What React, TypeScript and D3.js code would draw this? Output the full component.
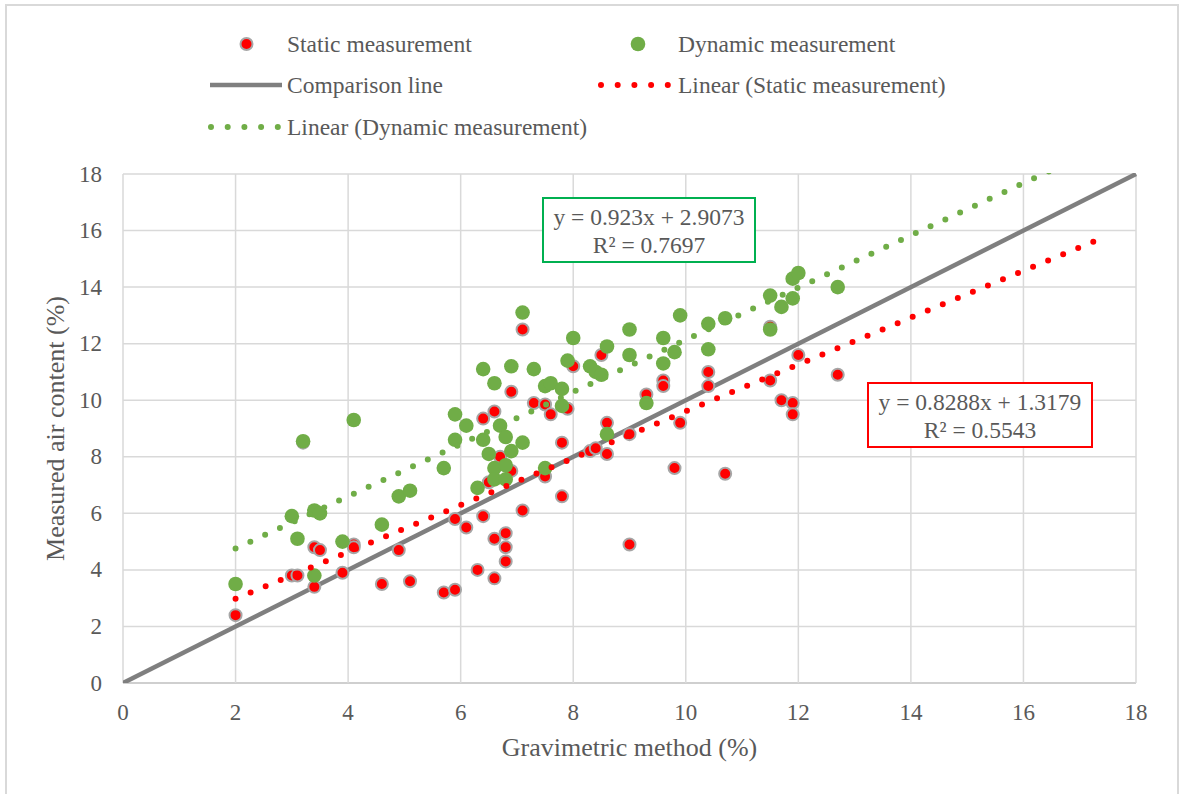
import React, { useEffect, useRef } from "react";
import * as d3 from "d3";

// Static measurement: [gravimetric %, measured %]
const staticX = [2.0, 3.0, 3.1, 3.2, 3.4, 3.4, 3.5, 3.9, 4.1, 4.1, 4.6, 4.9, 5.1, 5.7, 5.9, 5.9, 6.1, 6.3, 6.4, 6.4, 6.5, 6.6, 6.6, 6.6, 6.7, 6.8, 6.8, 6.8, 6.9, 6.9, 7.1, 7.1, 7.3, 7.5, 7.5, 7.6, 7.8, 7.8, 7.9, 8.0, 8.3, 8.4, 8.5, 8.6, 8.6, 9.0, 9.0, 9.3, 9.6, 9.6, 9.8, 9.9, 10.4, 10.4, 10.7, 11.5, 11.5, 11.7, 11.9, 11.9, 12.0, 12.7];
const staticY = [2.4, 3.8, 3.8, 8.5, 3.4, 4.8, 4.7, 3.9, 4.9, 4.8, 3.5, 4.7, 3.6, 3.2, 3.3, 5.8, 5.5, 4.0, 5.9, 9.35, 7.1, 9.6, 5.1, 3.7, 8.0, 5.3, 4.8, 4.3, 10.3, 7.5, 12.5, 6.1, 9.9, 9.85, 7.3, 9.5, 8.5, 6.6, 9.7, 11.2, 8.2, 8.3, 11.6, 9.2, 8.1, 8.8, 4.9, 10.2, 10.7, 10.5, 7.6, 9.2, 11.0, 10.5, 7.4, 12.6, 10.7, 10.0, 9.9, 9.5, 11.6, 10.9];

// Dynamic measurement
const dynamicX = [2.0, 3.0, 3.1, 3.2, 3.4, 3.4, 3.5, 3.9, 4.1, 4.6, 4.9, 5.1, 5.7, 5.9, 5.9, 6.1, 6.3, 6.4, 6.4, 6.5, 6.6, 6.6, 6.6, 6.7, 6.8, 6.8, 6.8, 6.9, 6.9, 7.1, 7.1, 7.3, 7.5, 7.5, 7.6, 7.8, 7.8, 7.9, 8.0, 8.3, 8.4, 8.5, 8.6, 8.6, 9.0, 9.0, 9.3, 9.6, 9.6, 9.8, 9.9, 10.4, 10.4, 10.7, 11.5, 11.5, 11.7, 11.9, 11.9, 12.0, 12.7];
const dynamicY = [3.5, 5.9, 5.1, 8.55, 6.1, 3.8, 6.0, 5.0, 9.3, 5.6, 6.6, 6.8, 7.6, 8.6, 9.5, 9.1, 6.9, 11.1, 8.6, 8.1, 10.6, 7.6, 7.2, 9.1, 8.7, 7.7, 7.2, 11.2, 8.2, 13.1, 8.5, 11.1, 10.5, 7.6, 10.6, 10.4, 9.8, 11.4, 12.2, 11.2, 11.0, 10.9, 11.9, 8.8, 12.5, 11.6, 9.9, 12.2, 11.3, 11.7, 13.0, 12.7, 11.8, 12.9, 13.7, 12.5, 13.3, 14.3, 13.6, 14.5, 14.0];

// Fitted trend lines (slope, intercept, R²) and their drawn x-range
const staticFit = { slope: 0.8288, intercept: 1.3179, r2: 0.5543 };
const dynamicFit = { slope: 0.923, intercept: 2.9073, r2: 0.7697 };
const trendRange = [2, 17.25];

const axisTicks = [0, 2, 4, 6, 8, 10, 12, 14, 16, 18];

const W = 1179;
const H = 794;
const plot = { left: 123, right: 1136, top: 174, bottom: 683 };

const RED = "#FF0000";
const GREEN = "#70AD47";
const GREY_LINE = "#7F7F7F";
const TEXT = "#595959";
const GRID = "#D9D9D9";
const FONT = '"Liberation Serif", "Times New Roman", Times, "DejaVu Serif", serif';

export default function App() {
  const ref = useRef<SVGSVGElement | null>(null);

  useEffect(() => {
    document.body.style.margin = "0";
    const svg = d3.select(ref.current);
    svg.selectAll("*").remove();

    const x = d3.scaleLinear().domain([0, 18]).range([plot.left, plot.right]);
    const y = d3.scaleLinear().domain([0, 18]).range([plot.bottom, plot.top]);

    svg.append("rect").attr("width", W).attr("height", H).attr("fill", "#fff");
    svg
      .append("rect")
      .attr("x", 6)
      .attr("y", 5)
      .attr("width", 1172)
      .attr("height", 820)
      .attr("fill", "none")
      .attr("stroke", GRID)
      .attr("stroke-width", 2);

    svg
      .append("defs")
      .append("clipPath")
      .attr("id", "plot-clip")
      .append("rect")
      .attr("x", plot.left)
      .attr("y", plot.top - 1)
      .attr("width", plot.right - plot.left + 1)
      .attr("height", plot.bottom - plot.top + 1);

    // Grid
    const grid = svg.append("g");
    axisTicks.forEach((t) => {
      grid
        .append("line")
        .attr("x1", x(t))
        .attr("x2", x(t))
        .attr("y1", plot.top)
        .attr("y2", plot.bottom)
        .attr("stroke", GRID)
        .attr("stroke-width", 1.5);
      grid
        .append("line")
        .attr("x1", plot.left)
        .attr("x2", plot.right)
        .attr("y1", y(t))
        .attr("y2", y(t))
        .attr("stroke", t === 0 ? "#BFBFBF" : GRID)
        .attr("stroke-width", 1.5);
    });

    // Tick labels
    const tickG = svg.append("g").style("font-family", FONT).attr("font-size", 23).attr("fill", TEXT);
    axisTicks.forEach((t) => {
      tickG
        .append("text")
        .attr("x", x(t))
        .attr("y", plot.bottom + 29)
        .attr("text-anchor", "middle")
        .attr("dominant-baseline", "central")
        .text(String(t));
      tickG
        .append("text")
        .attr("x", plot.left - 21)
        .attr("y", y(t))
        .attr("text-anchor", "end")
        .attr("dominant-baseline", "central")
        .text(String(t));
    });

    // Axis titles
    svg
      .append("text")
      .attr("x", (plot.left + plot.right) / 2)
      .attr("y", 747)
      .attr("text-anchor", "middle")
      .attr("dominant-baseline", "central")
      .style("font-family", FONT)
      .attr("font-size", 26)
      .attr("fill", TEXT)
      .text("Gravimetric method (%)");
    svg
      .append("text")
      .attr("transform", `translate(55,${(plot.top + plot.bottom) / 2}) rotate(-90)`)
      .attr("text-anchor", "middle")
      .attr("dominant-baseline", "central")
      .style("font-family", FONT)
      .attr("font-size", 26)
      .attr("fill", TEXT)
      .text("Measured air content (%)");

    const body = svg.append("g").attr("clip-path", "url(#plot-clip)");

    // Comparison line y = x
    const line = d3
      .line<[number, number]>()
      .x((d) => x(d[0]))
      .y((d) => y(d[1]));
    body
      .append("path")
      .attr("d", line([[0, 0], [18, 18]]))
      .attr("stroke", GREY_LINE)
      .attr("stroke-width", 4.5)
      .attr("fill", "none");

    // Markers
    const staticPts = staticX.map((v, i) => [v, staticY[i]] as [number, number]);
    const dynamicPts = dynamicX.map((v, i) => [v, dynamicY[i]] as [number, number]);

    body
      .append("g")
      .selectAll("circle")
      .data(staticPts)
      .join("circle")
      .attr("cx", (d) => x(d[0]))
      .attr("cy", (d) => y(d[1]))
      .attr("r", 6)
      .attr("fill", RED)
      .attr("stroke", "#A6A6A6")
      .attr("stroke-width", 2);

    body
      .append("g")
      .selectAll("circle")
      .data(dynamicPts)
      .join("circle")
      .attr("cx", (d) => x(d[0]))
      .attr("cy", (d) => y(d[1]))
      .attr("r", 7.3)
      .attr("fill", GREEN);

    // Trend lines
    const trend = (fit: { slope: number; intercept: number }) =>
      line(trendRange.map((v) => [v, fit.slope * v + fit.intercept] as [number, number]));
    [
      { fit: staticFit, color: RED },
      { fit: dynamicFit, color: GREEN },
    ].forEach(({ fit, color }) => {
      body
        .append("path")
        .attr("d", trend(fit))
        .attr("stroke", color)
        .attr("stroke-width", 6)
        .attr("stroke-linecap", "round")
        .attr("stroke-dasharray", "0 16.3")
        .attr("fill", "none");
    });

    // Equation boxes
    const eqBox = (cx: number, top: number, w: number, color: string, fit: { slope: number; intercept: number; r2: number }) => {
      const g = svg.append("g");
      g.append("rect")
        .attr("x", cx - w / 2)
        .attr("y", top)
        .attr("width", w)
        .attr("height", 64)
        .attr("fill", "#fff")
        .attr("stroke", color)
        .attr("stroke-width", 2);
      const t = g
        .append("text")
        .style("font-family", FONT)
        .attr("font-size", 23.5)
        .attr("fill", TEXT)
        .attr("text-anchor", "middle");
      t.append("tspan").attr("x", cx).attr("y", top + 27).text(`y = ${fit.slope}x + ${fit.intercept}`);
      t.append("tspan").attr("x", cx).attr("y", top + 55).text(`R² = ${fit.r2}`);
    };
    eqBox(649, 198, 212, "#00B050", dynamicFit);
    eqBox(980, 383, 224, RED, staticFit);

    // Legend
    const lg = svg.append("g").style("font-family", FONT).attr("font-size", 23.5).attr("fill", TEXT);
    const legendText = (tx: number, ty: number, s: string) =>
      lg.append("text").attr("x", tx).attr("y", ty).attr("dominant-baseline", "central").text(s);

    lg.append("circle").attr("cx", 246.5).attr("cy", 44).attr("r", 6).attr("fill", RED).attr("stroke", "#A6A6A6").attr("stroke-width", 2);
    legendText(287, 44, "Static measurement");
    lg.append("circle").attr("cx", 638).attr("cy", 44).attr("r", 7.3).attr("fill", GREEN);
    legendText(678, 44, "Dynamic measurement");

    lg.append("line").attr("x1", 210).attr("x2", 282).attr("y1", 85).attr("y2", 85).attr("stroke", GREY_LINE).attr("stroke-width", 4.5);
    legendText(287, 85, "Comparison line");
    lg.append("line").attr("x1", 601).attr("x2", 670).attr("y1", 85).attr("y2", 85).attr("stroke", RED).attr("stroke-width", 6).attr("stroke-linecap", "round").attr("stroke-dasharray", "0 16.7");
    legendText(678, 85, "Linear (Static measurement)");

    lg.append("line").attr("x1", 211).attr("x2", 280).attr("y1", 127).attr("y2", 127).attr("stroke", GREEN).attr("stroke-width", 6).attr("stroke-linecap", "round").attr("stroke-dasharray", "0 16.7");
    legendText(287, 127, "Linear (Dynamic measurement)");
  }, []);

  return (
    <div style={{ position: "absolute", left: 0, top: 0 }}>
      <svg ref={ref} width={W} height={H} style={{ display: "block" }} />
    </div>
  );
}
